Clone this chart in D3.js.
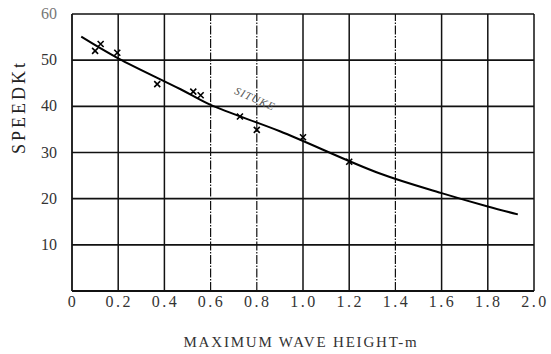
<!DOCTYPE html>
<html><head><meta charset="utf-8">
<script src="https://cdn.jsdelivr.net/npm/d3@7"></script>
<style>body{margin:0;background:#fff}svg{display:block}text{font-family:"Liberation Serif","DejaVu Serif","Times New Roman",serif}</style>
</head><body>
<script>
const xTicks = [0,0.2,0.4,0.6,0.8,1.0,1.2,1.4,1.6,1.8,2.0];
const xTickLabels = ["0","0.2","0.4","0.6","0.8","1.0","1.2","1.4","1.6","1.8","2.0"];
const yTicks = [10,20,30,40,50,60];
const dashedX = [0.6,0.8,1.4];
const curveX = [0.04,0.2,0.47,0.6,0.9,1.33,1.6,1.8,1.93];
const curveY = [55.1,50.4,43.7,40.3,34.6,25.5,21.2,18.3,16.6];
const pointX = [0.10,0.124,0.196,0.369,0.525,0.557,0.727,0.80,1.0,1.2];
const pointY = [52.0,53.5,51.6,44.8,43.2,42.4,37.8,34.9,33.3,28.0];

const W=551,H=354;
const svg=d3.select("body").append("svg").attr("width",W).attr("height",H);
const x=d3.scaleLinear().domain([0,2]).range([72,534]);
const y=d3.scaleLinear().domain([0,60]).range([291,14]);

// horizontal grid
svg.append("g").selectAll("line").data(yTicks).join("line")
 .attr("x1",x(0)).attr("x2",x(2)).attr("y1",d=>y(d)).attr("y2",d=>y(d))
 .attr("stroke","#111").attr("stroke-width",1.6);
// vertical grid
svg.append("g").selectAll("line").data(xTicks.slice(1)).join("line")
 .attr("x1",d=>x(d)).attr("x2",d=>x(d)).attr("y1",y(0)).attr("y2",y(60))
 .attr("stroke","#111").attr("stroke-width",d=>dashedX.includes(d)?1.2:1.5)
 .attr("stroke-dasharray",d=>dashedX.includes(d)?"9,1.5,1.5,1.5":null);
// axes frame
svg.append("line").attr("x1",x(0)).attr("x2",x(0)).attr("y1",y(0)).attr("y2",y(60)).attr("stroke","#111").attr("stroke-width",1.8);
svg.append("line").attr("x1",x(0)).attr("x2",x(2)).attr("y1",y(0)).attr("y2",y(0)).attr("stroke","#111").attr("stroke-width",1.8);

// tick labels
svg.append("g").selectAll("text").data(xTicks).join("text")
 .attr("x",d=>x(d)+1).attr("y",307).attr("text-anchor","middle")
 .attr("font-size",16).attr("fill","#333").attr("letter-spacing",2.5)
 .text((d,i)=>xTickLabels[i]);
svg.append("g").selectAll("text").data(yTicks).join("text")
 .attr("x",57).attr("y",d=>y(d)+5).attr("text-anchor","end")
 .attr("font-size",16).attr("fill",d=>d===60?"#777":"#333")
 .text(d=>d);

// titles
svg.append("text").attr("transform","translate(25,107) rotate(-90)")
 .attr("text-anchor","middle").attr("font-size",18)
 .attr("fill","#222").attr("letter-spacing",3).text("SPEEDKt");
svg.append("text").attr("x",301).attr("y",347).attr("text-anchor","middle")
 .attr("font-size",15).attr("fill","#333")
 .attr("letter-spacing",1.8).text("MAXIMUM WAVE HEIGHT-m");

// curve
const pts=curveX.map((d,i)=>[d,curveY[i]]);
svg.append("path").datum(pts)
 .attr("d",d3.line().x(d=>x(d[0])).y(d=>y(d[1])).curve(d3.curveCatmullRom))
 .attr("fill","none").attr("stroke","#000").attr("stroke-width",2);

// markers
const mk=svg.append("g");
pointX.forEach((px,i)=>{
  const cx=x(px),cy=y(pointY[i]),s=3;
  mk.append("path").attr("d",`M${cx-s},${cy-s}L${cx+s},${cy+s}M${cx+s},${cy-s}L${cx-s},${cy+s}`)
   .attr("stroke","#000").attr("stroke-width",1.6);
});

// curve label
svg.append("text").attr("transform",`translate(${x(0.70)},${y(42.8)}) rotate(24)`)
 .attr("font-style","italic").attr("font-size",11)
 .attr("fill","#555").attr("letter-spacing",1).text("SITUKE");
</script>
</body></html>
